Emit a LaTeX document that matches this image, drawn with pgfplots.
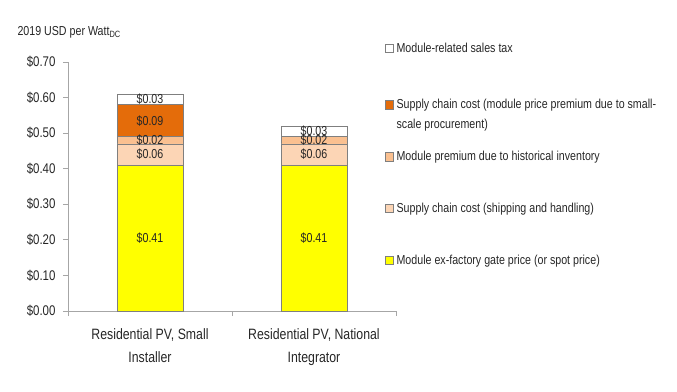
\documentclass[border=0pt]{standalone}
\usepackage{fontspec}
\setmainfont{Liberation Sans}[FakeStretch=0.82]
\usepackage{pgfplots}
\pgfplotsset{compat=1.18}
\definecolor{cYellow}{HTML}{FFFF00}
\definecolor{cShip}{HTML}{FCD5B5}
\definecolor{cInv}{HTML}{FAC090}
\definecolor{cSupply}{HTML}{E46C0A}
\definecolor{cEdge}{HTML}{7F7F7F}
\definecolor{cAxis}{HTML}{A6A6A6}
\definecolor{cText}{HTML}{262626}
\pgfplotsset{
  lg/.style={legend image code/.code={\draw[##1, draw=cEdge, line width=0.6bp] (0bp,0bp) rectangle (8bp,8.5bp);}},
  frame/.style={at={(0,0)}, anchor=south west,
    scale only axis, width=328bp, height=249bp,
    xmin=-0.5, xmax=1.5, ymin=0, ymax=0.7, clip=false},
}
\begin{document}
\begin{tikzpicture}
\useasboundingbox (-68bp,-81bp) rectangle (609bp,311bp);
\begin{axis}[
  frame,
  ybar stacked, bar width=66bp,
  axis x line*=bottom, axis y line*=left,
  axis line style={draw=cAxis, line width=0.8bp, -},
  x axis line style={-}, y axis line style={-},
  tick align=outside, major tick length=5bp,
  tick style={draw=cAxis, line width=0.8bp},
  ytick={0,0.1,0.2,0.3,0.4,0.5,0.6,0.7},
  yticklabels={\$0.00,\$0.10,\$0.20,\$0.30,\$0.40,\$0.50,\$0.60,\$0.70},
  yticklabel style={font=\fontsize{14bp}{16bp}\selectfont, text=cText, xshift=-4bp},
  xtick={-0.5,0.5,1.5}, xticklabels={,,},
  extra x ticks={0,1},
  extra x tick labels={{Residential PV, Small\\Installer},{Residential PV, National\\Integrator}},
  extra x tick style={major tick length=0pt},
  xticklabel style={align=center, font=\fontsize{15bp}{23bp}\selectfont, text=cText, yshift=-14bp},
  ylabel={2019 USD per Watt\textsubscript{DC}},
  every axis y label/.style={at={(axis description cs:0,1)}, anchor=base west, xshift=-54bp, yshift=27bp, font=\fontsize{13bp}{15bp}\selectfont, text=cText},
  reverse legend,
  legend style={draw=none, fill=none, inner sep=0pt, outer sep=0pt,
    nodes={inner sep=0pt, anchor=base west}, row sep=41bp, column sep=3bp,
    font=\fontsize{13bp}{20bp}\selectfont, text=cText,
    at={(axis description cs:0.9665,1.0763)}, anchor=north west},
  legend cell align=left,
]
\addplot[fill=cYellow, draw=cEdge, line width=0.6bp, lg]
  coordinates {(0,0.41) (1,0.41)};
\addlegendentry{Module ex-factory gate price (or spot price)}
\addplot[fill=cShip, draw=cEdge, line width=0.6bp, lg]
  coordinates {(0,0.06) (1,0.06)};
\addlegendentry{Supply chain cost (shipping and handling)}
\addplot[fill=cInv, draw=cEdge, line width=0.6bp, lg]
  coordinates {(0,0.02) (1,0.02)};
\addlegendentry{Module premium due to historical inventory}
\addplot[fill=cSupply, draw=cEdge, line width=0.6bp, lg]
  coordinates {(0,0.09) (1,0)};
\addlegendentry{\begin{tabular}[t]{@{}l@{}}Supply chain cost (module price premium due to small-\\scale procurement)\end{tabular}}
\addplot[fill=white, draw=cEdge, line width=0.6bp, lg]
  coordinates {(0,0.03) (1,0.03)};
\addlegendentry{Module-related sales tax}
\end{axis}
% value labels, at the middle of each segment
\begin{axis}[
  frame, hide axis,
  nodes near coords, point meta=explicit symbolic,
  every node near coord/.style={anchor=center, inner sep=0pt, font=\fontsize{13bp}{15bp}\selectfont, text=cText},
]
\addplot[draw=none, mark=none] coordinates {
  (0,0.205) [\$0.41] (0,0.44) [\$0.06] (0,0.48) [\$0.02] (0,0.535) [\$0.09] (0,0.595) [\$0.03]
};
\addplot[draw=none, mark=none] coordinates {
  (1,0.205) [\$0.41] (1,0.44) [\$0.06] (1,0.48) [\$0.02] (1,0.505) [\$0.03]
};
\end{axis}
\end{tikzpicture}
\end{document}
